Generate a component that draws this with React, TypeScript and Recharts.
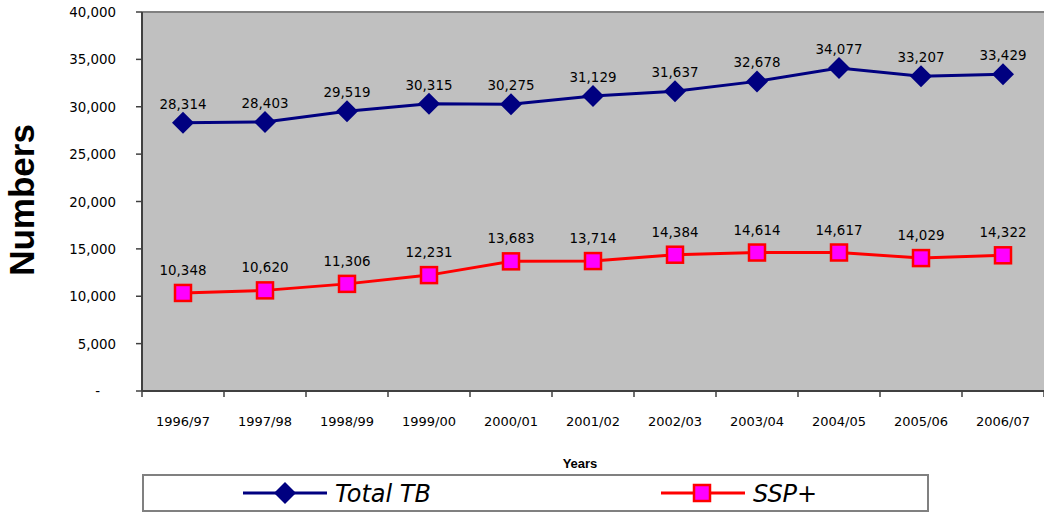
import React from 'react';
import { LineChart, Line, XAxis, YAxis, CartesianGrid, ReferenceLine, LabelList } from 'recharts';

const years = ['1996/97', '1997/98', '1998/99', '1999/00', '2000/01', '2001/02', '2002/03', '2003/04', '2004/05', '2005/06', '2006/07'];
const totalTB = [28314, 28403, 29519, 30315, 30275, 31129, 31637, 32678, 34077, 33207, 33429];
const sspPlus = [10348, 10620, 11306, 12231, 13683, 13714, 14384, 14614, 14617, 14029, 14322];
const yTicks = [0, 5000, 10000, 15000, 20000, 25000, 30000, 35000, 40000];
const seriesNames = ['Total TB', 'SSP+'];

const data = years.map((year, i) => ({ pos: i + 0.5, year, totalTB: totalTB[i], ssp: sspPlus[i] }));
const boundaryTicks = years.map((_, i) => i).concat(years.length);
const centerTicks = years.map((_, i) => i + 0.5);

const fmt = (v: any) => Number(v).toLocaleString('en-US');
const tickFont = { fontFamily: 'DejaVu Sans', fontSize: 13.4, fill: '#000' };

const Diamond = (props: any) => {
  const { cx, cy } = props;
  if (cx == null || cy == null) return null;
  const r = 11;
  return <polygon points={`${cx},${cy - r} ${cx + r},${cy} ${cx},${cy + r} ${cx - r},${cy}`} fill="#000080" />;
};

const Square = (props: any) => {
  const { cx, cy } = props;
  if (cx == null || cy == null) return null;
  return <rect x={cx - 8} y={cy - 8} width={16} height={16} fill="#FF00FF" stroke="#FF0000" strokeWidth={2.5} />;
};

const YTick = (props: any) => {
  const { x, y, payload } = props;
  if (payload.value === 0) {
    return <text x={x - 16} y={y} dy={5} textAnchor="end" {...tickFont}>-</text>;
  }
  return <text x={x} y={y} dy={5} textAnchor="end" {...tickFont}>{fmt(payload.value)}</text>;
};

const LegendBox = () => (
  <div style={{ position: 'absolute', left: 142, top: 474, width: 787, height: 38, border: '2px solid #808080', background: '#fff', boxSizing: 'border-box' }}>
    <svg width={787} height={38} style={{ position: 'absolute', left: -2, top: -2 }}>
      <line x1={243 - 142} x2={327 - 142} y1={19} y2={19} stroke="#000080" strokeWidth={3} />
      <Diamond cx={285 - 142} cy={19} />
      <text x={335 - 142} y={28} fontFamily="DejaVu Sans" fontStyle="italic" fontSize={24} fill="#000">{seriesNames[0]}</text>
      <line x1={661 - 142} x2={745 - 142} y1={19} y2={19} stroke="#FF0000" strokeWidth={3} />
      <Square cx={702 - 142} cy={19} />
      <text x={753 - 142} y={28} fontFamily="DejaVu Sans" fontStyle="italic" fontSize={24} fill="#000">{seriesNames[1]}</text>
    </svg>
  </div>
);

export default function App() {
  return (
    <div style={{ position: 'absolute', left: 0, top: 0, width: 1044, height: 512, background: '#fff', overflow: 'hidden' }}>
      <LineChart width={1044} height={512} data={data} margin={{ top: 12, right: 0, left: 82, bottom: 75 }}>
        <CartesianGrid xAxisId="a" yAxisId="y" fill="#C0C0C0" horizontal={false} vertical={false} />
        <ReferenceLine yAxisId="y" xAxisId="a" y={40000} stroke="#808080" strokeWidth={2} />
        <XAxis
          xAxisId="a"
          dataKey="pos"
          type="number"
          domain={[0, 11]}
          ticks={boundaryTicks}
          tickFormatter={() => ''}
          tickSize={6}
          height={6}
          stroke="#404040"
          axisLine={{ stroke: '#404040', strokeWidth: 2 }}
          tickLine={{ stroke: '#404040', strokeWidth: 1.5 }}
          interval={0}
        />
        <XAxis
          xAxisId="b"
          dataKey="pos"
          type="number"
          domain={[0, 11]}
          ticks={centerTicks}
          tickFormatter={(v: number) => years[Math.floor(v)]}
          axisLine={false}
          tickLine={false}
          tickMargin={14}
          height={40}
          tick={{ ...tickFont, fontSize: 13 }}
          interval={0}
          label={{
            content: () => (
              <text x={580} y={468} textAnchor="middle" fontFamily="Liberation Sans" fontWeight="bold" fontSize={13} fill="#000">Years</text>
            ),
          }}
        />
        <YAxis
          yAxisId="y"
          domain={[0, 40000]}
          ticks={yTicks}
          width={60}
          tickSize={6}
          tickMargin={20}
          tick={<YTick />}
          axisLine={{ stroke: '#404040', strokeWidth: 2 }}
          tickLine={{ stroke: '#404040', strokeWidth: 1.5 }}
          interval={0}
          label={{
            content: () => (
              <text x={34} y={200} transform="rotate(-90 34 200)" textAnchor="middle" fontFamily="Liberation Sans" fontWeight="bold" fontSize={35} fill="#000">Numbers</text>
            ),
          }}
        />
        <Line
          xAxisId="a"
          yAxisId="y"
          dataKey="totalTB"
          name={seriesNames[0]}
          stroke="#000080"
          strokeWidth={3}
          dot={(p: any) => <Diamond {...p} key={`d-${p.index}`} />}
          isAnimationActive={false}
        >
          <LabelList dataKey="totalTB" position="top" offset={14} formatter={fmt} style={{ fontFamily: 'DejaVu Sans', fontSize: 13.4, fill: '#000' }} />
        </Line>
        <Line
          xAxisId="a"
          yAxisId="y"
          dataKey="ssp"
          name={seriesNames[1]}
          stroke="#FF0000"
          strokeWidth={3}
          dot={(p: any) => <Square {...p} key={`s-${p.index}`} />}
          isAnimationActive={false}
        >
          <LabelList dataKey="ssp" position="top" offset={18} formatter={fmt} style={{ fontFamily: 'DejaVu Sans', fontSize: 13.4, fill: '#000' }} />
        </Line>
      </LineChart>
      <LegendBox />
    </div>
  );
}
